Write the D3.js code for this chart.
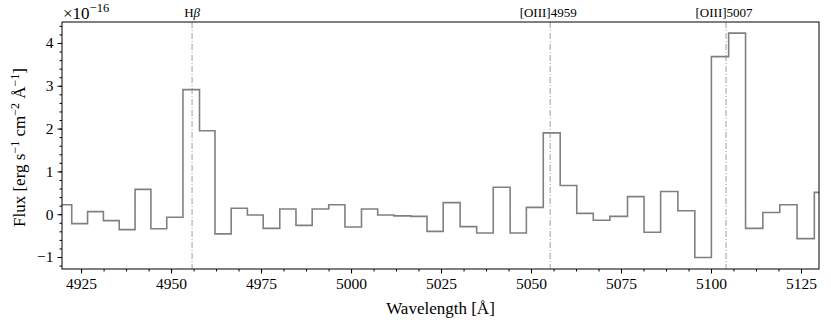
<!DOCTYPE html>
<html>
<head>
<meta charset="utf-8">
<script src="https://cdn.jsdelivr.net/npm/d3@7"></script>
<style>
  html, body { margin: 0; padding: 0; background: #fff; }
  svg { display: block; }
  text { font-family: "Liberation Serif", "DejaVu Serif", serif; fill: #000; }
</style>
</head>
<body>
<svg id="chart" width="831" height="324"></svg>
<script>
// ---- Data ----
// Bin edges in wavelength (Å); bins outside the view are clipped
const binEdges = [4922.4, 4926.8, 4931.2, 4935.6, 4940.0, 4944.4, 4948.8, 4953.3, 4957.9,
  4962.2, 4966.7, 4971.2, 4975.6, 4980.2, 4984.7, 4989.2, 4993.8, 4998.3, 5002.9,
  5007.4, 5011.9, 5016.6, 5021.1, 5025.6, 5030.3, 5034.9, 5039.5, 5044.2, 5048.7,
  5053.4, 5058.1, 5062.7, 5067.3, 5071.9, 5076.8, 5081.4, 5086.0, 5090.8, 5095.5,
  5100.1, 5104.9, 5109.6, 5114.4, 5119.1, 5123.9, 5128.7];
// Flux per bin (units of 1e-16 erg s^-1 cm^-2 Å^-1); first/last bins are partial
const fluxValues = [0.22, -0.22, 0.06, -0.15, -0.36, 0.58, -0.34, -0.07, 2.91, 1.95,
  -0.46, 0.14, -0.02, -0.33, 0.12, -0.26, 0.12, 0.22, -0.30, 0.12, -0.02, -0.04,
  -0.05, -0.40, 0.27, -0.29, -0.44, 0.63, -0.44, 0.16, 1.90, 0.67, 0.02, -0.14,
  -0.05, 0.41, -0.42, 0.53, 0.08, -1.01, 3.68, 4.23, -0.33, 0.04, 0.22, -0.57, 0.51];
const lineNames = ["H\u03B2", "[OIII]4959", "[OIII]5007"];
const lineRest = [4861.33, 4958.91, 5006.84];
const redshift = 0.01944;
const xTicks = [4925, 4950, 4975, 5000, 5025, 5050, 5075, 5100, 5125];
const yTicks = [-1, 0, 1, 2, 3, 4];
const xDomain = [4919.7, 5130.0];
const yDomain = [-1.28, 4.49];

// ---- Layout ----
const svg = d3.select("#chart");
const m = { left: 62, right: 819, top: 22, bottom: 269 };
const x = d3.scaleLinear().domain(xDomain).range([m.left, m.right]);
const y = d3.scaleLinear().domain(yDomain).range([m.bottom, m.top]);

svg.append("defs").append("clipPath").attr("id", "plotclip")
  .append("rect").attr("x", m.left).attr("y", m.top)
  .attr("width", m.right - m.left).attr("height", m.bottom - m.top);

// Emission line markers
const lineObs = lineRest.map(l => l * (1 + redshift));
const g = svg.append("g");
g.selectAll("line.em").data(lineObs).join("line")
  .attr("class", "em")
  .attr("x1", d => x(d)).attr("x2", d => x(d))
  .attr("y1", m.top).attr("y2", m.bottom)
  .attr("stroke", "#a8a8a8").attr("stroke-width", 1.1)
  .attr("stroke-dasharray", "6,2,1,2");

// Step spectrum
const left = binEdges[0] - 5, right = binEdges[binEdges.length - 1] + 5;
const allEdges = [left, ...binEdges, right];
const pts = fluxValues.map((v, i) => [allEdges[i], v]);
pts.push([allEdges[allEdges.length - 1], fluxValues[fluxValues.length - 1]]);
const stepLine = d3.line().x(d => x(d[0])).y(d => y(d[1])).curve(d3.curveStepAfter);
svg.append("path").datum(pts)
  .attr("clip-path", "url(#plotclip)")
  .attr("d", stepLine)
  .attr("fill", "none").attr("stroke", "#808080").attr("stroke-width", 1.6);

// Axes
const xMinor = d3.range(xTicks[0] - 25, xTicks[xTicks.length - 1] + 25, 6.25)
  .filter(t => t >= xDomain[0] && t <= xDomain[1]);
const yMinor = d3.range(-1.2, 4.5, 0.2).filter(t => t >= yDomain[0] && t <= yDomain[1]);

const xAxis = d3.axisBottom(x).tickValues(xTicks).tickFormat(d3.format("d")).tickSize(4.5).tickPadding(4);
const xAxisMinor = d3.axisBottom(x).tickValues(xMinor).tickFormat("").tickSize(2.5);
const yAxis = d3.axisLeft(y).tickValues(yTicks)
  .tickFormat(d => d < 0 ? "\u2212" + Math.abs(d) : String(d)).tickSize(4.5).tickPadding(4);
const yAxisMinor = d3.axisLeft(y).tickValues(yMinor).tickFormat("").tickSize(2.5);

function style(sel) {
  sel.select(".domain").remove();
  sel.selectAll("line").attr("stroke", "#000").attr("stroke-width", 1);
  sel.selectAll("text").attr("font-size", 15.5);
}
svg.append("g").attr("transform", `translate(0,${m.bottom})`).call(xAxisMinor).call(style);
svg.append("g").attr("transform", `translate(0,${m.bottom})`).call(xAxis).call(style);
svg.append("g").attr("transform", `translate(${m.left},0)`).call(yAxisMinor).call(style);
svg.append("g").attr("transform", `translate(${m.left},0)`).call(yAxis).call(style);

// Frame
svg.append("rect").attr("x", m.left).attr("y", m.top)
  .attr("width", m.right - m.left).attr("height", m.bottom - m.top)
  .attr("fill", "none").attr("stroke", "#000").attr("stroke-width", 1);

// Line labels
svg.selectAll("text.emlab").data(lineObs).join("text")
  .attr("class", "emlab")
  .attr("x", (d, i) => x(d) - (i === 0 ? 0 : 2))
  .attr("y", 17)
  .attr("text-anchor", "middle")
  .attr("font-size", 13)
  .each(function(d, i) {
    const t = d3.select(this);
    if (i === 0) {
      t.append("tspan").text("H");
      t.append("tspan").attr("font-style", "italic").text("\u03B2");
    } else {
      t.text(lineNames[i]);
    }
  });

// Offset text
const off = svg.append("text").attr("x", 63).attr("y", 19).attr("font-size", 17);
off.append("tspan").text("\u00D710");
off.append("tspan").attr("font-size", 12.5).attr("dy", -7).text("\u221216");

// X label
svg.append("text").attr("x", (m.left + m.right) / 2).attr("y", 314)
  .attr("text-anchor", "middle").attr("font-size", 17).text("Wavelength [\u00C5]");

// Y label
const yl = svg.append("text")
  .attr("transform", `translate(25,${(m.top + m.bottom) / 2 + 2}) rotate(-90)`)
  .attr("text-anchor", "middle").attr("font-size", 17);
yl.append("tspan").text("Flux [erg s");
yl.append("tspan").attr("font-size", 12).attr("dy", -6).text("\u22121");
yl.append("tspan").attr("dy", 6).text(" cm");
yl.append("tspan").attr("font-size", 12).attr("dy", -6).text("\u22122");
yl.append("tspan").attr("dy", 6).text(" \u00C5");
yl.append("tspan").attr("font-size", 12).attr("dy", -6).text("\u22121");
yl.append("tspan").attr("dy", 6).text("]");
</script>
</body>
</html>
